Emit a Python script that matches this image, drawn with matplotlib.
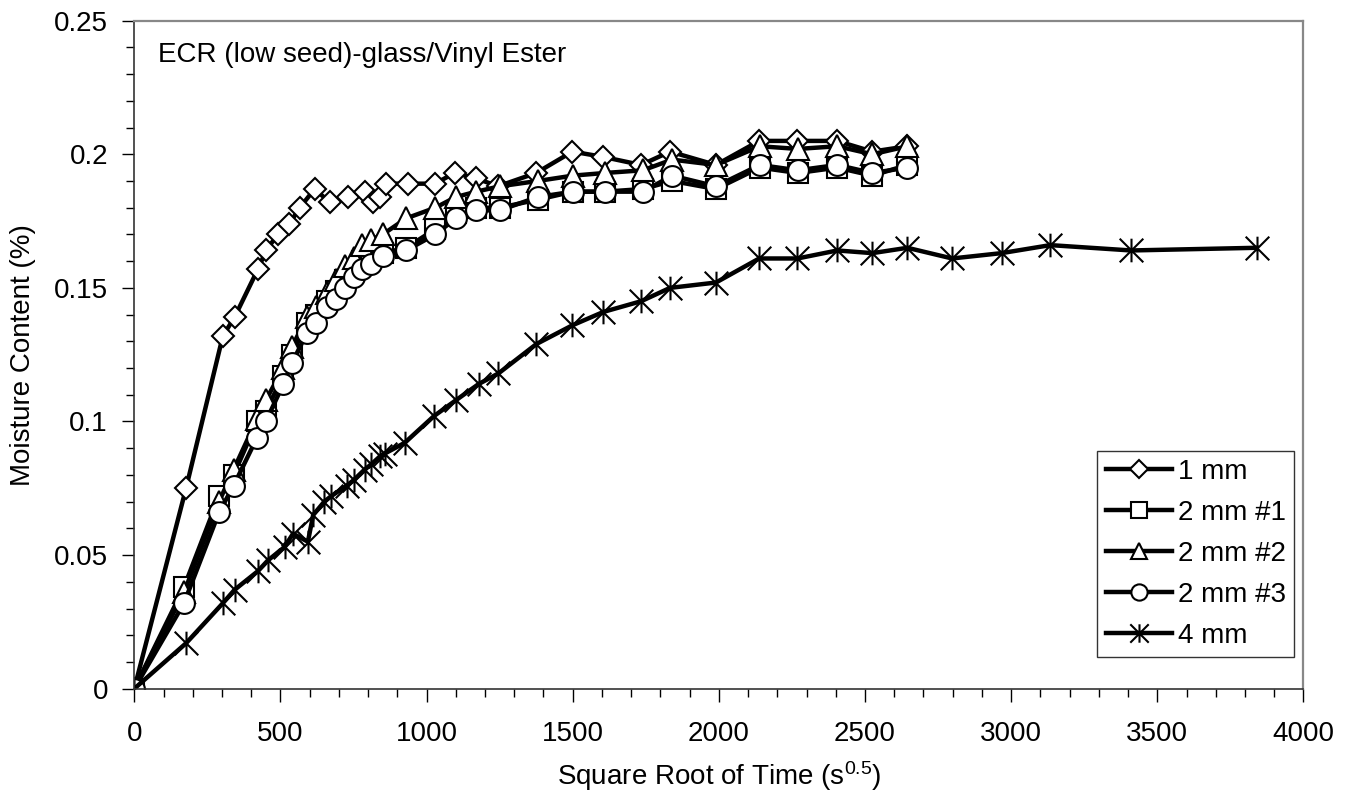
import numpy as np
import matplotlib
matplotlib.use("Agg")
import matplotlib.pyplot as plt
from matplotlib.path import Path
from matplotlib.ticker import MultipleLocator

plt.rcParams['font.family'] = ['Liberation Sans', 'DejaVu Sans']
plt.rcParams['mathtext.fontset'] = 'custom'
plt.rcParams['mathtext.rm'] = 'Liberation Sans'
plt.rcParams['mathtext.it'] = 'Liberation Sans:italic'

#%% data

x_1mm = [0, 177, 303, 343, 423, 451, 491, 531, 566, 617, 669, 731, 789, 815, 840,
         860, 937, 1029, 1096, 1170, 1244, 1375, 1499, 1605, 1734, 1833, 1990,
         2138, 2268, 2404, 2525, 2645]
y_1mm = [0, 0.075, 0.132, 0.139, 0.157, 0.164, 0.170, 0.174, 0.180, 0.187, 0.182,
         0.184, 0.186, 0.182, 0.184, 0.189, 0.189, 0.189, 0.193, 0.191, 0.188,
         0.193, 0.201, 0.199, 0.196, 0.201, 0.196, 0.205, 0.205, 0.205, 0.201, 0.203]

x_2mm = [0, 170, 290, 340, 420, 450, 510, 540, 590, 620, 660, 690, 720, 750, 780,
         810, 850, 930, 1030, 1100, 1170, 1250, 1380, 1500, 1610, 1740, 1840, 1990,
         2140, 2270, 2405, 2525, 2645]
y_2mm_1 = [0, 0.038, 0.072, 0.080, 0.100, 0.104, 0.117, 0.125, 0.137, 0.140, 0.145,
           0.149, 0.153, 0.157, 0.160, 0.161, 0.163, 0.165, 0.172, 0.178, 0.180,
           0.180, 0.183, 0.186, 0.186, 0.187, 0.190, 0.187, 0.195, 0.193, 0.195,
           0.192, 0.196]
y_2mm_2 = [0, 0.036, 0.070, 0.082, 0.101, 0.108, 0.120, 0.128, 0.139, 0.143, 0.148,
           0.153, 0.158, 0.161, 0.166, 0.168, 0.170, 0.176, 0.180, 0.184, 0.186,
           0.188, 0.190, 0.192, 0.193, 0.194, 0.198, 0.196, 0.203, 0.202, 0.203,
           0.200, 0.203]
y_2mm_3 = [0, 0.032, 0.066, 0.076, 0.094, 0.100, 0.114, 0.122, 0.133, 0.137, 0.143,
           0.146, 0.150, 0.154, 0.157, 0.159, 0.162, 0.164, 0.170, 0.176, 0.179,
           0.179, 0.184, 0.186, 0.186, 0.186, 0.192, 0.188, 0.196, 0.194, 0.196,
           0.193, 0.195]

x_4mm = [0, 177, 303, 343, 423, 457, 514, 543, 594, 612, 650, 673, 727, 750, 788,
         811, 841, 857, 925, 1025, 1101, 1178, 1246, 1376, 1499, 1605, 1734, 1833,
         1990, 2138, 2269, 2405, 2525, 2645, 2798, 2967, 3134, 3410, 3840]
y_4mm = [0, 0.017, 0.032, 0.037, 0.044, 0.048, 0.053, 0.058, 0.055, 0.065, 0.070,
         0.072, 0.076, 0.078, 0.082, 0.084, 0.087, 0.088, 0.092, 0.102, 0.108, 0.114,
         0.118, 0.129, 0.136, 0.141, 0.145, 0.150, 0.152, 0.161, 0.161, 0.164, 0.163,
         0.165, 0.161, 0.163, 0.166, 0.164, 0.165]

labels = ["1 mm", "2 mm #1", "2 mm #2", "2 mm #3", "4 mm"]

#%% plot

# excel style asterisk: vertical bar plus an x
star = Path([(0, -1), (0, 1), (-1, -1), (1, 1), (-1, 1), (1, -1)],
            [Path.MOVETO, Path.LINETO] * 3)

series = [(x_1mm, y_1mm, 'D', 11.5),
          (x_2mm, y_2mm_1, 's', 15),
          (x_2mm, y_2mm_2, '^', 15.5),
          (x_2mm, y_2mm_3, 'o', 15),
          (x_4mm, y_4mm, star, 17)]

fig = plt.figure(figsize=(13.51, 7.98), dpi=100)
ax = fig.add_axes([0.0994, 0.137, 0.8654, 0.8371])

for (xs, ys, mk, ms), lab in zip(series, labels):
    ax.plot(xs, ys, color='black', lw=3.2, marker=mk, ms=ms, mfc='white',
            mec='black', mew=1.5, label=lab)

ax.set_xlim(0, 4000)
ax.set_ylim(0, 0.25)
ax.xaxis.set_major_locator(MultipleLocator(500))
ax.xaxis.set_minor_locator(MultipleLocator(100))
ax.yaxis.set_major_locator(MultipleLocator(0.05))
ax.yaxis.set_minor_locator(MultipleLocator(0.01))
ax.yaxis.set_major_formatter(plt.FuncFormatter(lambda v, p: "%g" % round(v, 3)))

ax.tick_params(which='major', direction='out', length=9, width=1, labelsize=20)
ax.tick_params(which='minor', direction='out', length=6, width=1)
ax.tick_params(axis='x', pad=14)
ax.tick_params(axis='y', pad=10)

for s in ['left', 'bottom']:
    ax.spines[s].set_color('#333333')
    ax.spines[s].set_linewidth(1.2)
for s in ['top', 'right']:
    ax.spines[s].set_color('#888888')
    ax.spines[s].set_linewidth(1.6)

ax.set_xlabel(r"Square Root of Time (s$^{0.5}$)", fontsize=20)
ax.set_ylabel("Moisture Content (%)", fontsize=20)
ax.xaxis.label.set_va('center')
ax.yaxis.label.set_va('center')
ax.xaxis.set_label_coords(0.5, -0.131)
ax.yaxis.set_label_coords(-0.095, 0.5)

ax.text(0.0203, 0.938, "ECR (low seed)-glass/Vinyl Ester", transform=ax.transAxes,
        fontsize=20, va='baseline', ha='left')

leg = ax.legend(loc='lower right', bbox_to_anchor=(0.992, 0.047), fontsize=20,
                numpoints=1, markerscale=0.78, handlelength=2.4, handletextpad=0.2,
                labelspacing=0.54, borderpad=0.3, borderaxespad=0, fancybox=False,
                frameon=True)
leg.get_frame().set_edgecolor('black')
leg.get_frame().set_linewidth(1)

fig.savefig("out.png", dpi=100)
